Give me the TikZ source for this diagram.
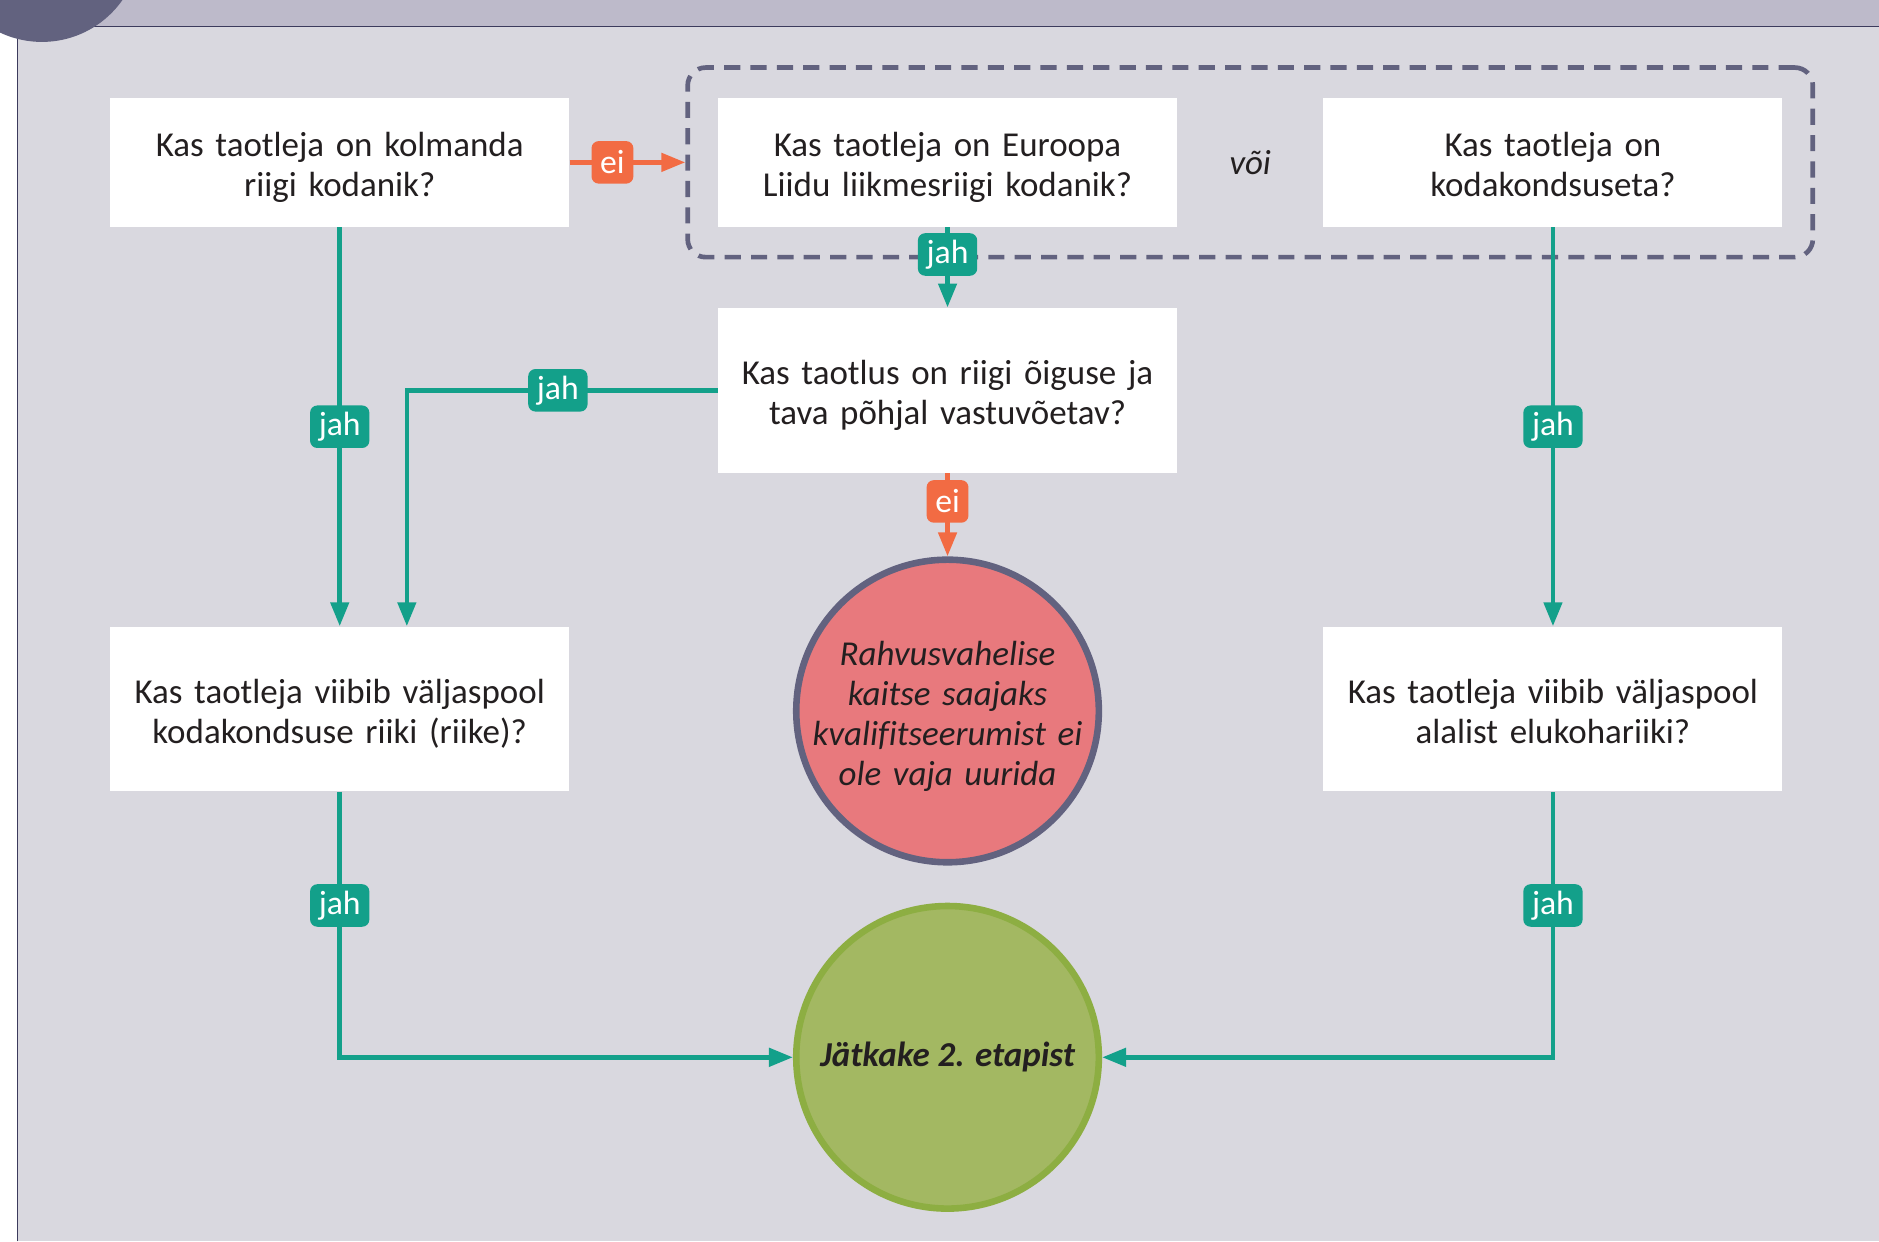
\documentclass[tikz,border=0pt]{standalone}
\usepackage{fontspec}
\setmainfont{Carlito}[Ligatures=NoCommon]
\usepackage{tikz}
\usetikzlibrary{arrows.meta}
\usetikzlibrary{calc,fit,positioning}

\definecolor{panel}{HTML}{D9D8DF}
\definecolor{band}{HTML}{BDBACA}
\definecolor{frame}{HTML}{3C3B5C}
\definecolor{slate}{HTML}{62627F}
\definecolor{jahgreen}{HTML}{13A08A}
\definecolor{eiorange}{HTML}{F26B43}
\definecolor{stopred}{HTML}{E8797D}
\definecolor{gofill}{HTML}{A3B862}
\definecolor{goborder}{HTML}{8DAE42}
\definecolor{ink}{HTML}{231F20}

\tikzset{
    struts/.style={execute at begin node={\rule{0pt}{18pt}},
        execute at end node={\rule[-4.4pt]{0pt}{4.4pt}}},
    question/.style={struts, fill=white, text=ink, align=center, text width=7.4cm,
        minimum width=7.66cm, inner sep=0, font=\fontsize{16.6}{19}\selectfont},
    orbox/.style={draw=slate, line width=0.078cm, dash pattern=on 0.27cm off 0.17cm,
        rounded corners=0.3cm, inner sep=0.5cm},
    endpoint/.style={circle, minimum size=5.05cm, inner sep=0, line width=0.11cm},
    yes/.style={draw=jahgreen, line width=0.078cm, -{Triangle[length=0.4cm,width=0.3cm]}},
    no/.style={draw=eiorange, line width=0.078cm, -{Triangle[length=0.4cm,width=0.3cm]}},
    yeslabel/.style={fill=jahgreen, text=white, rounded corners=0.12cm, inner xsep=0.145cm,
        inner ysep=0, minimum height=0.71cm, font=\fontsize{16}{18}\selectfont},
    nolabel/.style={yeslabel, fill=eiorange}
}

\begin{document}
\begin{tikzpicture}
    \clip (0,0) rectangle (31.36,20.72);
    \fill [white] (0,0) rectangle (31.36,20.72);
    \fill [band] (0,20.28) rectangle (31.36,20.72);
    \fill [panel] (0.29,0) rectangle (31.36,20.28);
    \draw [frame, line width=0.7pt] (0.29,0) -- (0.29,20.28) -- (31.36,20.28);
    \fill [slate] (0.70,21.66) circle (1.64);

    \node (q1) [question, minimum height=2.15cm] at (5.67,18.01) {Kas taotleja on kolmanda\\riigi kodanik?};

    \node (q2) [question, minimum height=2.15cm, right=2.47cm of q1] {Kas taotleja on Euroopa\\Liidu liikmesriigi kodanik?};

    \node (q3) [question, minimum height=2.15cm, right=2.43cm of q2] {Kas taotleja on\\kodakondsuseta?};

    \node (or) [text=ink, font=\fontsize{16.6}{19}\selectfont\itshape] at ($(q2.east)!0.5!(q3.west)$) {või};

    \node (group) [orbox, fit=(q2)(q3)] {};

    \node (q4) [question, minimum height=2.75cm, below=1.34cm of q2] {Kas taotlus on riigi õiguse ja\\tava põhjal vastuvõetav?};

    \node (q5) [question, minimum height=2.75cm, below=6.66cm of q1] {Kas taotleja viibib väljaspool\\kodakondsuse riiki (riike)?};

    \node (q6) [question, minimum height=2.75cm, below=6.66cm of q3] {Kas taotleja viibib väljaspool\\alalist elukohariiki?};

    \node (stop) [endpoint, draw=slate, fill=stopred, below=1.39cm of q4] {};
    \node (stoptext) [struts, text=ink, align=center, text width=5cm, inner sep=0,
        font=\fontsize{16.6}{19}\selectfont\itshape] at (stop) {Rahvusvahelise\\kaitse saajaks\\kvalifitseerumist ei\\ole vaja uurida};

    \node (done) [endpoint, draw=goborder, fill=gofill, below=0.62cm of stop] {};
    \node (donetext) [text=ink, font=\fontsize{16.6}{19}\selectfont\bfseries\itshape] at (done) {Jätkake 2. etapist};

    \draw [no] (q1) -- node [nolabel, pos=0.37] (n1) {ei} (group.west);
    \draw [yes] (q1) -- node [yeslabel] (j1) {jah} (q5);
    \draw [yes] (q4.west) -| node [yeslabel, pos=0.257] (j2) {jah} ([xshift=1.12cm]q5.north);
    \draw [yes] (q2) -- node [yeslabel, pos=0.34] (j3) {jah} (q4);
    \draw [no] (q4) -- node [nolabel, pos=0.34] (n2) {ei} (stop);
    \draw [yes] (q3) -- node [yeslabel] (j4) {jah} (q6);
    \draw [yes] (q5) |- node [yeslabel, pos=0.214] (j5) {jah} (done);
    \draw [yes] (q6) |- node [yeslabel, pos=0.214] (j6) {jah} (done);
\end{tikzpicture}
\end{document}
